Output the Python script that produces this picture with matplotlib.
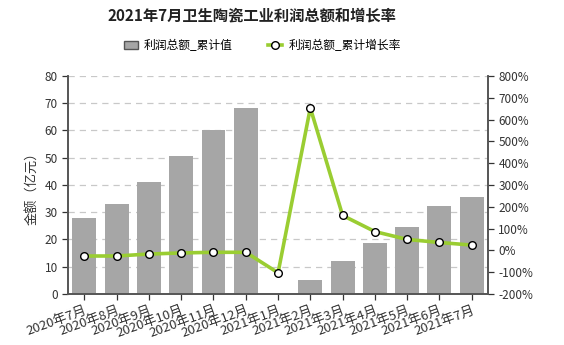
import numpy as np
import matplotlib
matplotlib.use("Agg")
import matplotlib.pyplot as plt

plt.rcParams['font.family'] = ['Noto Sans CJK SC', 'DejaVu Sans']

months = ["2020年7月", "2020年8月", "2020年9月", "2020年10月", "2020年11月",
          "2020年12月", "2021年1月", "2021年2月", "2021年3月", "2021年4月",
          "2021年5月", "2021年6月", "2021年7月"]
profit = [27.7, 33.0, 41.2, 50.6, 60.3, 68.4, np.nan, 5.1, 12.2, 18.8,
          24.5, 32.4, 35.5]
growth = [-26, -26, -17, -12, -9, -9, -103, 653, 160, 86, 50, 36, 24]

fig = plt.figure(figsize=(5.64, 3.45), dpi=100)
ax = fig.add_axes([0.121, 0.148, 0.744, 0.632])
ax2 = ax.twinx()

x = np.arange(len(months))
bars = ax.bar(x, profit, width=0.74, color="#a6a6a6", zorder=2,
              label="利润总额_累计值")
ln, = ax2.plot(x, growth, color="#9acd32", lw=2.6, marker="o", ms=5.5,
               mfc="white", mec="black", mew=1.0, zorder=3,
               label="利润总额_累计增长率")

ax.set_xlim(-0.5, len(months) - 0.5)
ax.set_ylim(0, 80)
ax.set_yticks(range(0, 81, 10))
ax2.set_ylim(-200, 800)
ax2.set_yticks(range(-200, 801, 100))
ax2.set_yticklabels([f"{v}%" for v in range(-200, 801, 100)])

ax.yaxis.grid(True, ls=(0, (5, 4)), color="#c8c8c8", lw=0.9, zorder=0)
ax.set_axisbelow(True)

ax.set_xticks(x)
ax.set_xticklabels(months, rotation=20, ha="right", rotation_mode="anchor",
                   fontsize=9.5, fontweight="medium")

for a in (ax, ax2):
    a.spines["top"].set_visible(False)
    for s in ("left", "right", "bottom"):
        a.spines[s].set_color("#555555")
        a.spines[s].set_linewidth(1.2)
    a.tick_params(axis="y", labelsize=8.5, colors="#333333", length=4,
                  width=0.9, direction="out")
ax.tick_params(axis="x", colors="#333333", length=4, width=0.9, pad=3)

ax.set_ylabel("金额（亿元）", fontsize=9.5, color="#333333", labelpad=4)

fig.text(0.447, 0.955, "2021年7月卫生陶瓷工业利润总额和增长率",
         ha="center", va="center", fontsize=11, fontweight="bold",
         color="#222222")
fig.legend(handles=[bars, ln], loc="center", bbox_to_anchor=(0.465, 0.868),
           ncol=2, frameon=False, fontsize=8.5, handlelength=1.2,
           columnspacing=3.0, handletextpad=0.5)
for p in fig.legends[0].get_patches():
    p.set_edgecolor("#555555")

fig.savefig("out.png", dpi=100)
